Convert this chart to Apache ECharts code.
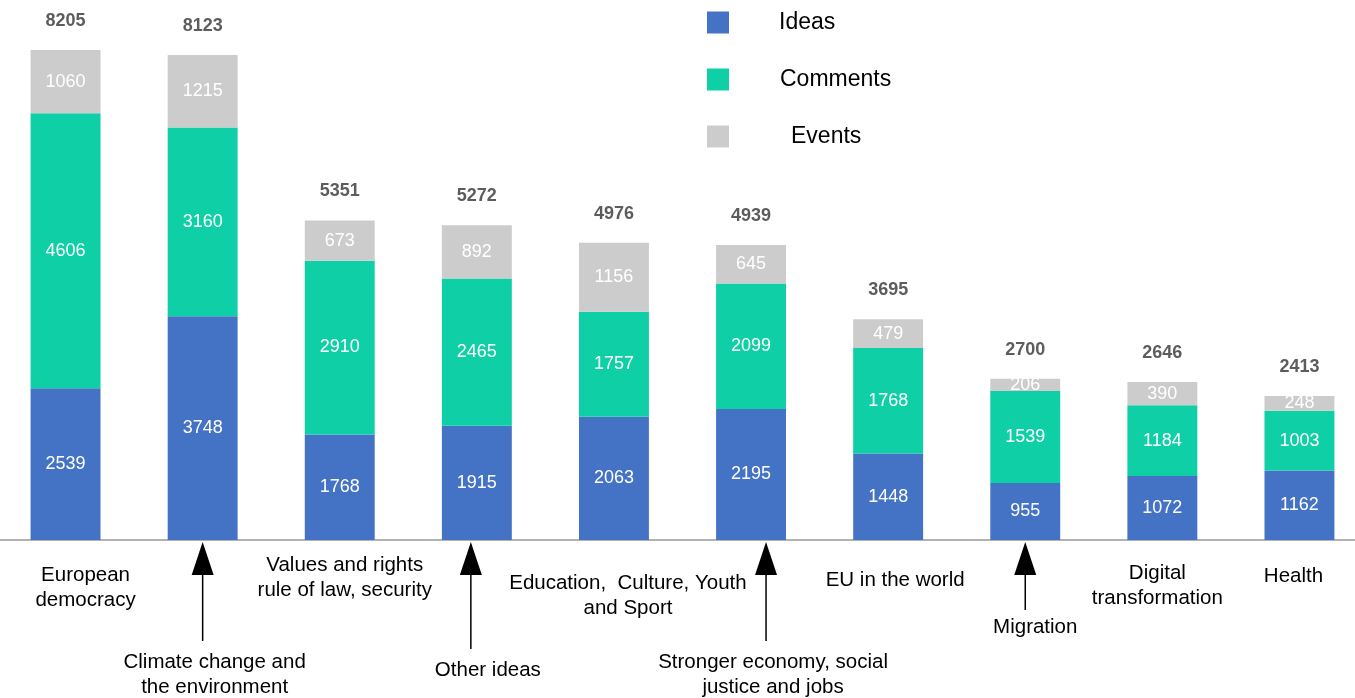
<!DOCTYPE html>
<html><head><meta charset="utf-8">
<script src="https://cdn.jsdelivr.net/npm/echarts@6/dist/echarts.min.js"></script>
<style>html,body{margin:0;padding:0;background:#fff;overflow:hidden}#c{width:1371px;height:698px;margin-left:-3px}</style>
</head><body><div id="c"></div>
<script>
const categories = ['European democracy','Climate change and the environment','Values and rights rule of law, security','Other ideas','Education,  Culture, Youth and Sport','Stronger economy, social justice and jobs','EU in the world','Migration','Digital transformation','Health'];
const ideas = [2539,3748,1768,1915,2063,2195,1448,955,1072,1162];
const comments = [4606,3160,2910,2465,1757,2099,1768,1539,1184,1003];
const events = [1060,1215,673,892,1156,645,479,206,390,248];
const totals = [8205,8123,5351,5272,4976,4939,3695,2700,2646,2413];
const labelLines = [
  ['European','democracy'],
  ['Climate change and','the environment'],
  ['Values and rights','rule of law, security'],
  ['Other ideas'],
  ['Education,  Culture, Youth','and Sport'],
  ['Stronger economy, social','justice and jobs'],
  ['EU in the world'],
  ['Migration'],
  ['Digital','transformation'],
  ['Health']
];
// layout of the category captions (style, not data)
const captionLayout = [
  {dx:20, y:575}, {dx:12, y:662, arrow:{dx:0, end:641}},
  {dx:5, y:565}, {dx:11, y:670, arrow:{dx:-6, end:649}},
  {dx:14, y:583}, {dx:22, y:662, arrow:{dx:15, end:641}},
  {dx:7, y:580}, {dx:10, y:627, arrow:{dx:0, end:610}},
  {dx:-5, y:573}, {dx:-6, y:576}
];
const FONT = "'Liberation Sans', Arial, Helvetica, sans-serif";
const chart = echarts.init(document.getElementById('c'));
const inner = {show:true, position:'inside', color:'#fff', fontSize:18, fontFamily:FONT};
chart.setOption({
  animation:false,
  grid:{left:0, right:0, top:50, bottom:158},
  legend:{
    orient:'vertical', left:705, top:6, itemWidth:22, itemHeight:22, itemGap:34, icon:'rect',
    textStyle:{fontSize:23, color:'#000', fontFamily:FONT},
    data:[
      {name:'Ideas', textStyle:{padding:[0,0,0,45]}},
      {name:'Comments', textStyle:{padding:[0,0,0,46]}},
      {name:'Events', textStyle:{padding:[0,0,0,57]}}
    ]
  },
  xAxis:{type:'category', data:categories,
    axisLine:{show:true, lineStyle:{color:'#999', width:1.5}},
    axisTick:{show:false}, axisLabel:{show:false}},
  yAxis:{type:'value', min:0, max:8205, show:false, splitLine:{show:false}},
  series:[
    {name:'Ideas', type:'bar', stack:'s', data:ideas, barWidth:'51%', itemStyle:{color:'#4472C4'}, label:inner},
    {name:'Comments', type:'bar', stack:'s', data:comments, itemStyle:{color:'#0FCFA6'}, label:inner},
    {name:'Events', type:'bar', stack:'s', data:events, itemStyle:{color:'#CCCCCC'}, label:inner},
    {name:'Total', type:'scatter', data:totals, symbolSize:0, silent:true,
      label:{show:true, position:'top', distance:20, color:'#333', fontWeight:'bold', fontSize:18, fontFamily:FONT}}
  ]
});
const g = [];
captionLayout.forEach((c, i) => {
  const cx = chart.convertToPixel({xAxisIndex:0}, i);
  const base = chart.convertToPixel({yAxisIndex:0}, 0);
  g.push({type:'text', silent:true, style:{
    text:labelLines[i].join('\n'), x:cx + c.dx, y:c.y - 12, align:'center', verticalAlign:'top',
    font:'20.5px ' + FONT, fill:'#000', lineHeight:25}});
  if (c.arrow) {
    const ax = cx + c.arrow.dx;
    const tip = base + 2;
    const hb = tip + 33;
    g.push({type:'line', silent:true, shape:{x1:ax, y1:hb, x2:ax, y2:c.arrow.end}, style:{stroke:'#000', lineWidth:1.5}});
    g.push({type:'polygon', silent:true, shape:{points:[[ax, tip],[ax-11, hb],[ax+11, hb]]}, style:{fill:'#000'}});
  }
});
chart.setOption({graphic:g});
</script></body></html>
